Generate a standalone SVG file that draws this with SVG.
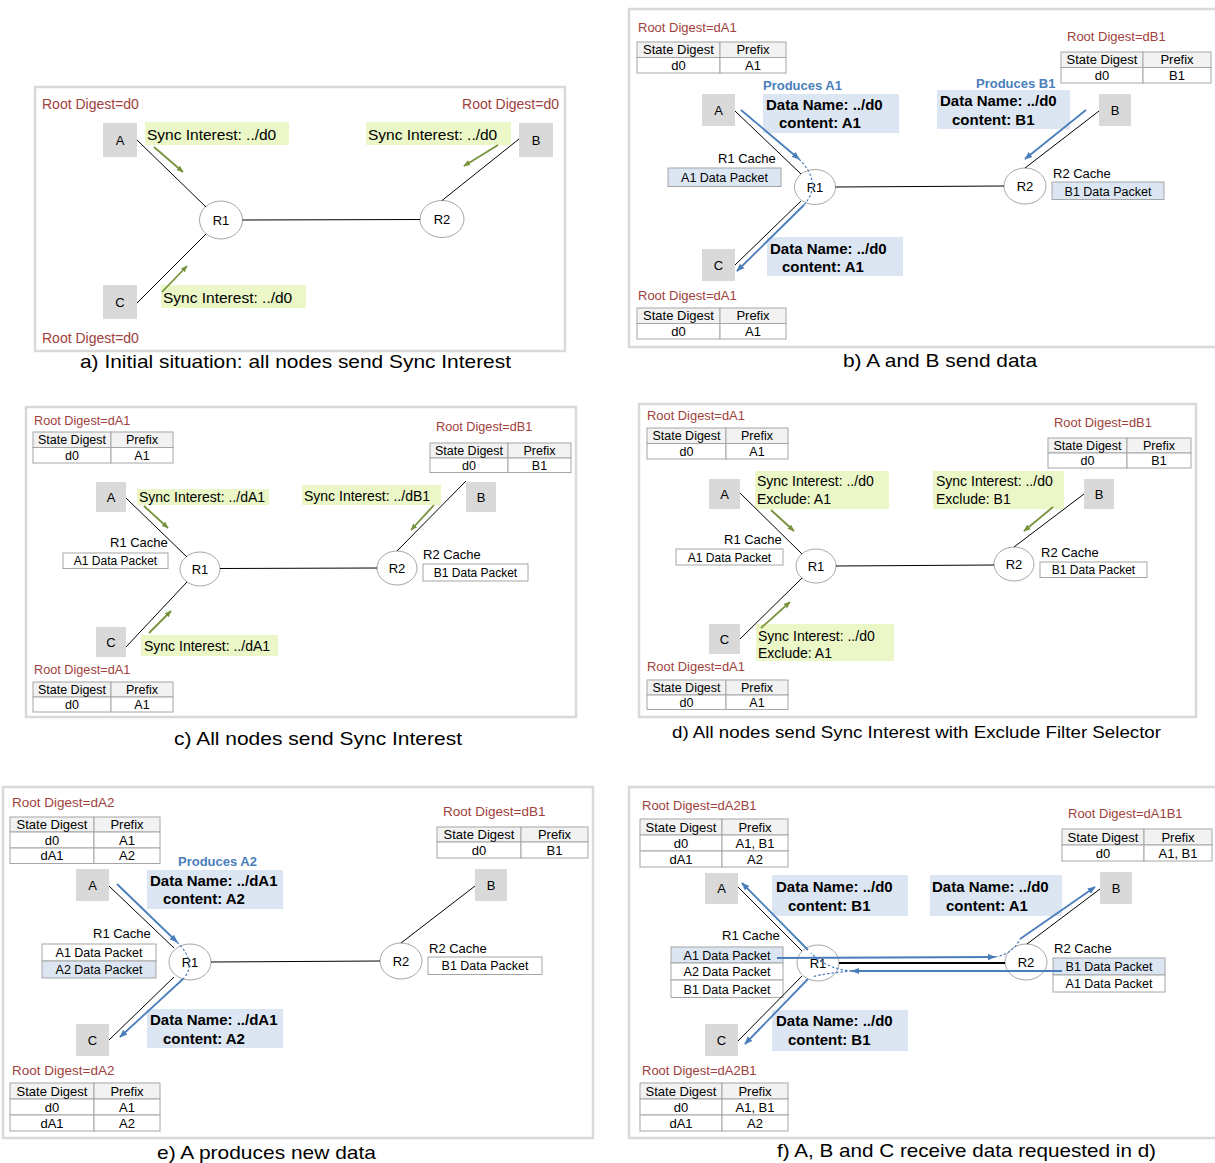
<svg xmlns="http://www.w3.org/2000/svg" width="1215" height="1163" viewBox="0 0 1215 1163">
<style>
text{font-family:"Liberation Sans",Arial,sans-serif;fill:#000}
.frame{fill:none;stroke:#d9d9d9;stroke-width:2.5}
.rd{font-size:13px;fill:#a0413c}
.nb{fill:#d9d9d9}
.nl{font-size:13px;text-anchor:middle}
.rt{fill:#fff;stroke:#a6a6a6;stroke-width:1}
.link{stroke:#000;stroke-width:1;fill:none}
.sync{fill:#ebf7c6}
.st{font-size:15.5px}
.st2{font-size:14px}
.ga{stroke:#77933c;stroke-width:1.8;fill:none;marker-end:url(#ag)}
.ba{stroke:#4a7ebb;stroke-width:1.8;fill:none;marker-end:url(#ab)}
.bd{stroke:#4a7ebb;stroke-width:1.2;fill:none;stroke-dasharray:2.5 2}
.dbox{fill:#dce6f2}
.dt{font-size:15px;font-weight:bold}
.prod{font-size:13px;font-weight:bold;fill:#4a7ebb}
.tc{fill:#fff;stroke:#a6a6a6;stroke-width:1}
.th{fill:#f2f2f2;stroke:#a6a6a6;stroke-width:1}
.cb{fill:#dce6f2;stroke:#a6a6a6;stroke-width:1}
.tt{font-size:13px;text-anchor:middle}
.ct{font-size:12.5px;text-anchor:middle}
.cl{font-size:13px}
.cap{font-size:19px}
</style>
<defs>
<marker id="ag" viewBox="0 0 10 10" refX="9" refY="5" markerWidth="7" markerHeight="7" orient="auto" markerUnits="userSpaceOnUse"><path d="M0,1 L10,5 L0,9 z" fill="#77933c"/></marker>
<marker id="ab" viewBox="0 0 10 10" refX="9" refY="5" markerWidth="8" markerHeight="8" orient="auto" markerUnits="userSpaceOnUse"><path d="M0,1 L10,5 L0,9 z" fill="#4a7ebb"/></marker>
</defs>
<rect width="1215" height="1163" fill="#fff"/>

<!-- ===== Panel a ===== -->
<g id="panel-a">
<rect class="frame" x="35" y="87" width="530" height="264"/>
<text class="rd" x="42" y="109" style="font-size:14px">Root Digest=d0</text>
<text class="rd" x="559" y="109" style="font-size:14px" text-anchor="end">Root Digest=d0</text>
<text class="rd" x="42" y="343" style="font-size:14px">Root Digest=d0</text>
<g id="a-A"><rect class="nb" x="103" y="123" width="34" height="34"/><text class="nl" x="120" y="145">A</text></g>
<g id="a-B"><rect class="nb" x="519" y="123" width="34" height="34"/><text class="nl" x="536" y="145">B</text></g>
<g id="a-C"><rect class="nb" x="103" y="285" width="34" height="34"/><text class="nl" x="120" y="307">C</text></g>
<g id="a-R1"><ellipse class="rt" cx="221" cy="220" rx="21.5" ry="19"/><text class="nl" x="221" y="225">R1</text></g>
<g id="a-R2"><ellipse class="rt" cx="442" cy="219" rx="22" ry="18.5"/><text class="nl" x="442" y="224">R2</text></g>
<g id="a-sA"><rect class="sync" x="145" y="122" width="144" height="23"/><text class="st" x="147" y="140">Sync Interest: ../d0</text></g>
<g id="a-sB"><rect class="sync" x="366" y="122" width="145" height="23"/><text class="st" x="368" y="140">Sync Interest: ../d0</text></g>
<g id="a-sC"><rect class="sync" x="161" y="285" width="145" height="23"/><text class="st" x="163" y="303">Sync Interest: ../d0</text></g>
<text class="cap" x="80" y="368" textLength="431" lengthAdjust="spacingAndGlyphs">a) Initial situation: all nodes send Sync Interest</text>
</g>

<!-- ===== Panel b ===== -->
<g id="panel-b">
<rect class="frame" x="629" y="9" width="600" height="338"/>
<text class="rd" x="638" y="32">Root Digest=dA1</text>
<text class="rd" x="1067" y="41">Root Digest=dB1</text>
<text class="rd" x="638" y="300">Root Digest=dA1</text>
<g id="b-tA">
<rect class="th" x="637" y="42" width="83" height="15.5"/><rect class="th" x="720" y="42" width="66" height="15.5"/>
<rect class="tc" x="637" y="57.5" width="83" height="15.5"/><rect class="tc" x="720" y="57.5" width="66" height="15.5"/>
<text class="tt" x="678.5" y="54">State Digest</text><text class="tt" x="753" y="54">Prefix</text>
<text class="tt" x="678.5" y="69.5">d0</text><text class="tt" x="753" y="69.5">A1</text>
</g>
<g id="b-tC">
<rect class="th" x="637" y="308" width="83" height="15.5"/><rect class="th" x="720" y="308" width="66" height="15.5"/>
<rect class="tc" x="637" y="323.5" width="83" height="15.5"/><rect class="tc" x="720" y="323.5" width="66" height="15.5"/>
<text class="tt" x="678.5" y="320">State Digest</text><text class="tt" x="753" y="320">Prefix</text>
<text class="tt" x="678.5" y="335.5">d0</text><text class="tt" x="753" y="335.5">A1</text>
</g>
<g id="b-tB">
<rect class="th" x="1061" y="52" width="82" height="15.5"/><rect class="th" x="1143" y="52" width="68" height="15.5"/>
<rect class="tc" x="1061" y="67.5" width="82" height="15.5"/><rect class="tc" x="1143" y="67.5" width="68" height="15.5"/>
<text class="tt" x="1102" y="64">State Digest</text><text class="tt" x="1177" y="64">Prefix</text>
<text class="tt" x="1102" y="79.5">d0</text><text class="tt" x="1177" y="79.5">B1</text>
</g>
<g id="b-A"><rect class="nb" x="702" y="94" width="33" height="32"/><text class="nl" x="718.5" y="114.5">A</text></g>
<g id="b-B"><rect class="nb" x="1099" y="94" width="32" height="32"/><text class="nl" x="1115" y="114.5">B</text></g>
<g id="b-C"><rect class="nb" x="702" y="249" width="33" height="32"/><text class="nl" x="718.5" y="269.5">C</text></g>
<g id="b-R1"><ellipse class="rt" cx="815" cy="187" rx="20.5" ry="17.5"/><text class="nl" x="815" y="192">R1</text></g>
<g id="b-R2"><ellipse class="rt" cx="1025" cy="186" rx="21" ry="18"/><text class="nl" x="1025" y="191">R2</text></g>
<g id="b-c1"><text class="cl" x="718" y="163">R1 Cache</text><rect class="cb" x="668" y="168" width="113" height="18.5"/><text class="ct" x="724.5" y="182">A1 Data Packet</text></g>
<g id="b-c2"><text class="cl" x="1053" y="178">R2 Cache</text><rect class="cb" x="1052" y="182" width="112" height="17.5"/><text class="ct" x="1108" y="195.5">B1 Data Packet</text></g>
<g id="b-d1"><text class="prod" x="763" y="90">Produces A1</text><rect class="dbox" x="763" y="94" width="136" height="39"/><text class="dt" x="766" y="110">Data Name: ../d0</text><text class="dt" x="779" y="128">content: A1</text></g>
<g id="b-d2"><text class="prod" x="976" y="88">Produces B1</text><rect class="dbox" x="937" y="90" width="133" height="39"/><text class="dt" x="940" y="106">Data Name: ../d0</text><text class="dt" x="952" y="125">content: B1</text></g>
<g id="b-d3"><rect class="dbox" x="767" y="237" width="136" height="39"/><text class="dt" x="770" y="254">Data Name: ../d0</text><text class="dt" x="782" y="272">content: A1</text></g>
<text class="cap" x="843" y="367" textLength="194" lengthAdjust="spacingAndGlyphs">b) A and B send data</text>
</g>

<!-- ===== Panel c ===== -->
<g id="panel-c">
<rect class="frame" x="26" y="407" width="550" height="310"/>
<text class="rd" x="34" y="425" style="font-size:12.7px">Root Digest=dA1</text>
<text class="rd" x="436" y="431" style="font-size:12.7px">Root Digest=dB1</text>
<text class="rd" x="34" y="674" style="font-size:12.7px">Root Digest=dA1</text>
<g id="c-tA">
<rect class="th" x="33" y="432" width="78" height="15.5"/><rect class="th" x="111" y="432" width="62" height="15.5"/>
<rect class="tc" x="33" y="447.5" width="78" height="15.5"/><rect class="tc" x="111" y="447.5" width="62" height="15.5"/>
<text class="tt" x="72" y="444" style="font-size:12.5px">State Digest</text><text class="tt" x="142" y="444" style="font-size:12.5px">Prefix</text>
<text class="tt" x="72" y="459.5" style="font-size:12.5px">d0</text><text class="tt" x="142" y="459.5" style="font-size:12.5px">A1</text>
</g>
<g id="c-tC">
<rect class="th" x="33" y="682" width="78" height="15"/><rect class="th" x="111" y="682" width="62" height="15"/>
<rect class="tc" x="33" y="697" width="78" height="15"/><rect class="tc" x="111" y="697" width="62" height="15"/>
<text class="tt" x="72" y="694" style="font-size:12.5px">State Digest</text><text class="tt" x="142" y="694" style="font-size:12.5px">Prefix</text>
<text class="tt" x="72" y="709" style="font-size:12.5px">d0</text><text class="tt" x="142" y="709" style="font-size:12.5px">A1</text>
</g>
<g id="c-tB">
<rect class="th" x="430" y="443" width="78" height="15"/><rect class="th" x="508" y="443" width="63" height="15"/>
<rect class="tc" x="430" y="458" width="78" height="14.5"/><rect class="tc" x="508" y="458" width="63" height="14.5"/>
<text class="tt" x="469" y="455" style="font-size:12.5px">State Digest</text><text class="tt" x="539.5" y="455" style="font-size:12.5px">Prefix</text>
<text class="tt" x="469" y="469.5" style="font-size:12.5px">d0</text><text class="tt" x="539.5" y="469.5" style="font-size:12.5px">B1</text>
</g>
<g id="c-A"><rect class="nb" x="96" y="482" width="30" height="30"/><text class="nl" x="111" y="501.5">A</text></g>
<g id="c-B"><rect class="nb" x="466" y="482" width="30" height="30"/><text class="nl" x="481" y="501.5">B</text></g>
<g id="c-C"><rect class="nb" x="96" y="627" width="30" height="30"/><text class="nl" x="111" y="646.5">C</text></g>
<g id="c-R1"><ellipse class="rt" cx="200" cy="569" rx="20" ry="17"/><text class="nl" x="200" y="574">R1</text></g>
<g id="c-R2"><ellipse class="rt" cx="397" cy="568" rx="20" ry="17"/><text class="nl" x="397" y="573">R2</text></g>
<g id="c-c1"><text class="cl" x="110" y="547">R1 Cache</text><rect class="tc" x="63" y="553" width="105" height="15.5"/><text class="ct" x="115.5" y="565" style="font-size:12px">A1 Data Packet</text></g>
<g id="c-c2"><text class="cl" x="423" y="559">R2 Cache</text><rect class="tc" x="423" y="564" width="105" height="17"/><text class="ct" x="475.5" y="577" style="font-size:12px">B1 Data Packet</text></g>
<g id="c-sA"><rect class="sync" x="137" y="489" width="132" height="16"/><text class="st2" x="139" y="502">Sync Interest: ../dA1</text></g>
<g id="c-sB"><rect class="sync" x="302" y="485" width="139" height="20"/><text class="st2" x="304" y="501">Sync Interest: ../dB1</text></g>
<g id="c-sC"><rect class="sync" x="141" y="635" width="137" height="21"/><text class="st2" x="144" y="651">Sync Interest: ../dA1</text></g>
<text class="cap" x="174" y="745" textLength="288" lengthAdjust="spacingAndGlyphs">c) All nodes  send Sync Interest</text>
</g>

<!-- ===== Panel d ===== -->
<g id="panel-d">
<rect class="frame" x="639" y="404" width="557" height="313"/>
<text class="rd" x="647" y="420" style="font-size:12.9px">Root Digest=dA1</text>
<text class="rd" x="1054" y="427" style="font-size:12.9px">Root Digest=dB1</text>
<text class="rd" x="647" y="671" style="font-size:12.9px">Root Digest=dA1</text>
<g id="d-tA">
<rect class="th" x="647" y="428" width="79" height="15.5"/><rect class="th" x="726" y="428" width="62" height="15.5"/>
<rect class="tc" x="647" y="443.5" width="79" height="15.5"/><rect class="tc" x="726" y="443.5" width="62" height="15.5"/>
<text class="tt" x="686.5" y="440" style="font-size:12.5px">State Digest</text><text class="tt" x="757" y="440" style="font-size:12.5px">Prefix</text>
<text class="tt" x="686.5" y="455.5" style="font-size:12.5px">d0</text><text class="tt" x="757" y="455.5" style="font-size:12.5px">A1</text>
</g>
<g id="d-tC">
<rect class="th" x="647" y="680" width="79" height="15"/><rect class="th" x="726" y="680" width="62" height="15"/>
<rect class="tc" x="647" y="695" width="79" height="14.5"/><rect class="tc" x="726" y="695" width="62" height="14.5"/>
<text class="tt" x="686.5" y="692" style="font-size:12.5px">State Digest</text><text class="tt" x="757" y="692" style="font-size:12.5px">Prefix</text>
<text class="tt" x="686.5" y="707" style="font-size:12.5px">d0</text><text class="tt" x="757" y="707" style="font-size:12.5px">A1</text>
</g>
<g id="d-tB">
<rect class="th" x="1048" y="438" width="79" height="15"/><rect class="th" x="1127" y="438" width="64" height="15"/>
<rect class="tc" x="1048" y="453" width="79" height="15"/><rect class="tc" x="1127" y="453" width="64" height="15"/>
<text class="tt" x="1087.5" y="450" style="font-size:12.5px">State Digest</text><text class="tt" x="1159" y="450" style="font-size:12.5px">Prefix</text>
<text class="tt" x="1087.5" y="465" style="font-size:12.5px">d0</text><text class="tt" x="1159" y="465" style="font-size:12.5px">B1</text>
</g>
<g id="d-A"><rect class="nb" x="709" y="479" width="31" height="30"/><text class="nl" x="724.5" y="498.5">A</text></g>
<g id="d-B"><rect class="nb" x="1084" y="479" width="30" height="30"/><text class="nl" x="1099" y="498.5">B</text></g>
<g id="d-C"><rect class="nb" x="709" y="624" width="31" height="30"/><text class="nl" x="724.5" y="643.5">C</text></g>
<g id="d-R1"><ellipse class="rt" cx="816" cy="566" rx="20" ry="17"/><text class="nl" x="816" y="571">R1</text></g>
<g id="d-R2"><ellipse class="rt" cx="1014" cy="564" rx="20" ry="17"/><text class="nl" x="1014" y="569">R2</text></g>
<g id="d-c1"><text class="cl" x="724" y="544">R1 Cache</text><rect class="tc" x="676" y="549" width="107" height="16"/><text class="ct" x="729.5" y="561.5" style="font-size:12px">A1 Data Packet</text></g>
<g id="d-c2"><text class="cl" x="1041" y="557">R2 Cache</text><rect class="tc" x="1040" y="562" width="107" height="15.5"/><text class="ct" x="1093.5" y="574" style="font-size:12px">B1 Data Packet</text></g>
<g id="d-sA"><rect class="sync" x="755" y="471" width="134" height="38"/><text class="st2" x="757" y="486">Sync Interest: ../d0</text><text class="st2" x="757" y="504">Exclude: A1</text></g>
<g id="d-sB"><rect class="sync" x="933" y="471" width="131" height="38"/><text class="st2" x="936" y="486">Sync Interest: ../d0</text><text class="st2" x="936" y="504">Exclude: B1</text></g>
<g id="d-sC"><rect class="sync" x="756" y="624" width="138" height="37"/><text class="st2" x="758" y="641">Sync Interest: ../d0</text><text class="st2" x="758" y="657.5">Exclude: A1</text></g>
<text x="672" y="738" style="font-size:17px" textLength="489" lengthAdjust="spacingAndGlyphs">d) All nodes send Sync Interest  with Exclude Filter Selector</text>
</g>

<!-- ===== Panel e ===== -->
<g id="panel-e">
<rect class="frame" x="3" y="787" width="590" height="351"/>
<text class="rd" x="12" y="807" style="font-size:13.5px">Root Digest=dA2</text>
<text class="rd" x="443" y="816" style="font-size:13.5px">Root Digest=dB1</text>
<text class="rd" x="12" y="1075" style="font-size:13.5px">Root Digest=dA2</text>
<g id="e-tA">
<rect class="th" x="10" y="817" width="84" height="15"/><rect class="th" x="94" y="817" width="66" height="15"/>
<rect class="tc" x="10" y="832" width="84" height="16"/><rect class="tc" x="94" y="832" width="66" height="16"/>
<rect class="tc" x="10" y="848" width="84" height="15.5"/><rect class="tc" x="94" y="848" width="66" height="15.5"/>
<text class="tt" x="52" y="829">State Digest</text><text class="tt" x="127" y="829">Prefix</text>
<text class="tt" x="52" y="844.5">d0</text><text class="tt" x="127" y="844.5">A1</text>
<text class="tt" x="52" y="860">dA1</text><text class="tt" x="127" y="860">A2</text>
</g>
<g id="e-tC">
<rect class="th" x="10" y="1083" width="84" height="16"/><rect class="th" x="94" y="1083" width="66" height="16"/>
<rect class="tc" x="10" y="1099" width="84" height="16"/><rect class="tc" x="94" y="1099" width="66" height="16"/>
<rect class="tc" x="10" y="1115" width="84" height="16"/><rect class="tc" x="94" y="1115" width="66" height="16"/>
<text class="tt" x="52" y="1095.5">State Digest</text><text class="tt" x="127" y="1095.5">Prefix</text>
<text class="tt" x="52" y="1111.5">d0</text><text class="tt" x="127" y="1111.5">A1</text>
<text class="tt" x="52" y="1127.5">dA1</text><text class="tt" x="127" y="1127.5">A2</text>
</g>
<g id="e-tB">
<rect class="th" x="437" y="827" width="84" height="15"/><rect class="th" x="521" y="827" width="67" height="15"/>
<rect class="tc" x="437" y="842" width="84" height="16"/><rect class="tc" x="521" y="842" width="67" height="16"/>
<text class="tt" x="479" y="839">State Digest</text><text class="tt" x="554.5" y="839">Prefix</text>
<text class="tt" x="479" y="854.5">d0</text><text class="tt" x="554.5" y="854.5">B1</text>
</g>
<g id="e-A"><rect class="nb" x="76" y="869" width="33" height="32"/><text class="nl" x="92.5" y="889.5">A</text></g>
<g id="e-B"><rect class="nb" x="475" y="869" width="32" height="32"/><text class="nl" x="491" y="889.5">B</text></g>
<g id="e-C"><rect class="nb" x="76" y="1024" width="33" height="32"/><text class="nl" x="92.5" y="1044.5">C</text></g>
<g id="e-R1"><ellipse class="rt" cx="190" cy="962" rx="21" ry="18"/><text class="nl" x="190" y="967">R1</text></g>
<g id="e-R2"><ellipse class="rt" cx="401" cy="961" rx="21" ry="18"/><text class="nl" x="401" y="966">R2</text></g>
<g id="e-c1"><text class="cl" x="93" y="938">R1 Cache</text>
<rect class="tc" x="42" y="944" width="114" height="17"/><rect class="cb" x="42" y="961" width="114" height="17"/>
<text class="ct" x="99" y="957">A1 Data Packet</text><text class="ct" x="99" y="974">A2 Data Packet</text></g>
<g id="e-c2"><text class="cl" x="429" y="953">R2 Cache</text><rect class="tc" x="428" y="957" width="114" height="17.5"/><text class="ct" x="485" y="970">B1 Data Packet</text></g>
<g id="e-d1"><text class="prod" x="178" y="866">Produces A2</text><rect class="dbox" x="147" y="870" width="136" height="39"/><text class="dt" x="150" y="886">Data Name: ../dA1</text><text class="dt" x="163" y="904">content: A2</text></g>
<g id="e-d2"><rect class="dbox" x="147" y="1009" width="136" height="39"/><text class="dt" x="150" y="1025">Data Name: ../dA1</text><text class="dt" x="163" y="1044">content: A2</text></g>
<text class="cap" x="157" y="1159" textLength="219" lengthAdjust="spacingAndGlyphs">e) A produces new data</text>
</g>

<!-- ===== Panel f ===== -->
<g id="panel-f">
<rect class="frame" x="629" y="787" width="600" height="351"/>
<text class="rd" x="642" y="810">Root Digest=dA2B1</text>
<text class="rd" x="1068" y="818">Root Digest=dA1B1</text>
<text class="rd" x="642" y="1075">Root Digest=dA2B1</text>
<g id="f-tA">
<rect class="th" x="640" y="819" width="82" height="16"/><rect class="th" x="722" y="819" width="66" height="16"/>
<rect class="tc" x="640" y="835" width="82" height="16"/><rect class="tc" x="722" y="835" width="66" height="16"/>
<rect class="tc" x="640" y="851" width="82" height="16"/><rect class="tc" x="722" y="851" width="66" height="16"/>
<text class="tt" x="681" y="831.5">State Digest</text><text class="tt" x="755" y="831.5">Prefix</text>
<text class="tt" x="681" y="847.5">d0</text><text class="tt" x="755" y="847.5">A1, B1</text>
<text class="tt" x="681" y="863.5">dA1</text><text class="tt" x="755" y="863.5">A2</text>
</g>
<g id="f-tC">
<rect class="th" x="640" y="1083" width="82" height="16"/><rect class="th" x="722" y="1083" width="66" height="16"/>
<rect class="tc" x="640" y="1099" width="82" height="16"/><rect class="tc" x="722" y="1099" width="66" height="16"/>
<rect class="tc" x="640" y="1115" width="82" height="16"/><rect class="tc" x="722" y="1115" width="66" height="16"/>
<text class="tt" x="681" y="1095.5">State Digest</text><text class="tt" x="755" y="1095.5">Prefix</text>
<text class="tt" x="681" y="1111.5">d0</text><text class="tt" x="755" y="1111.5">A1, B1</text>
<text class="tt" x="681" y="1127.5">dA1</text><text class="tt" x="755" y="1127.5">A2</text>
</g>
<g id="f-tB">
<rect class="th" x="1062" y="829" width="82" height="16"/><rect class="th" x="1144" y="829" width="68" height="16"/>
<rect class="tc" x="1062" y="845" width="82" height="16"/><rect class="tc" x="1144" y="845" width="68" height="16"/>
<text class="tt" x="1103" y="841.5">State Digest</text><text class="tt" x="1178" y="841.5">Prefix</text>
<text class="tt" x="1103" y="857.5">d0</text><text class="tt" x="1178" y="857.5">A1, B1</text>
</g>
<g id="f-A"><rect class="nb" x="705" y="873" width="33" height="31"/><text class="nl" x="721.5" y="893">A</text></g>
<g id="f-B"><rect class="nb" x="1100" y="872" width="32" height="32"/><text class="nl" x="1116" y="892.5">B</text></g>
<g id="f-C"><rect class="nb" x="705" y="1024" width="33" height="32"/><text class="nl" x="721.5" y="1044.5">C</text></g>
<g id="f-R1"><ellipse class="rt" cx="818" cy="963" rx="21" ry="18"/><text class="nl" x="818" y="968">R1</text></g>
<g id="f-R2"><ellipse class="rt" cx="1026" cy="962" rx="21" ry="18"/><text class="nl" x="1026" y="967">R2</text></g>
<g id="f-c1"><text class="cl" x="722" y="940">R1 Cache</text>
<rect class="cb" x="671" y="947" width="112" height="16"/><rect class="tc" x="671" y="963" width="112" height="17"/><rect class="tc" x="671" y="980" width="112" height="17.5"/>
<text class="ct" x="727" y="959.5">A1 Data Packet</text><text class="ct" x="727" y="976">A2 Data Packet</text><text class="ct" x="727" y="993.5">B1 Data Packet</text></g>
<g id="f-c2"><text class="cl" x="1054" y="953">R2 Cache</text>
<rect class="cb" x="1053" y="958" width="112" height="17"/><rect class="tc" x="1053" y="975" width="112" height="17"/>
<text class="ct" x="1109" y="971">B1 Data Packet</text><text class="ct" x="1109" y="988">A1 Data Packet</text></g>
<g id="f-d1"><rect class="dbox" x="772" y="875" width="136" height="41"/><text class="dt" x="776" y="892">Data Name: ../d0</text><text class="dt" x="788" y="911">content: B1</text></g>
<g id="f-d2"><rect class="dbox" x="930" y="875" width="132" height="41"/><text class="dt" x="932" y="892">Data Name: ../d0</text><text class="dt" x="946" y="911">content: A1</text></g>
<g id="f-d3"><rect class="dbox" x="772" y="1010" width="136" height="41"/><text class="dt" x="776" y="1026">Data Name: ../d0</text><text class="dt" x="788" y="1045">content: B1</text></g>
<text class="cap" x="777" y="1157" textLength="379" lengthAdjust="spacingAndGlyphs">f) A, B and C receive data requested in d)</text>
</g>

<!-- ===== Connectors ===== -->
<g id="connectors">
<!-- a -->
<line class="link" x1="137" y1="140" x2="206" y2="207"/>
<line class="link" x1="137" y1="303" x2="206" y2="234"/>
<line class="link" x1="519" y1="139" x2="442" y2="200.5"/>
<line class="link" x1="242.5" y1="220" x2="420" y2="219.5"/>
<line class="ga" x1="154" y1="147" x2="183" y2="172"/>
<line class="ga" x1="162" y1="292" x2="187" y2="266"/>
<line class="ga" x1="498" y1="145" x2="464" y2="166"/>
<!-- b -->
<line class="link" x1="735" y1="111" x2="801" y2="174"/>
<line class="link" x1="735" y1="265" x2="801" y2="201"/>
<line class="link" x1="1099" y1="111" x2="1025" y2="168"/>
<line class="link" x1="835.5" y1="187" x2="1004" y2="186"/>
<line class="ba" x1="741" y1="110" x2="799" y2="159"/>
<path class="bd" d="M799,159 Q823,183 804,205"/>
<line class="ba" x1="804" y1="205" x2="737" y2="271"/>
<line class="ba" x1="1086" y1="110" x2="1025" y2="159"/>
<!-- c -->
<line class="link" x1="126" y1="498" x2="187" y2="557"/>
<line class="link" x1="126" y1="647" x2="187" y2="582"/>
<line class="link" x1="466" y1="481" x2="397" y2="551"/>
<line class="link" x1="220" y1="568.5" x2="377" y2="568"/>
<line class="ga" x1="144" y1="506" x2="168" y2="528"/>
<line class="ga" x1="149" y1="633" x2="171" y2="611"/>
<line class="ga" x1="434" y1="505" x2="411" y2="530"/>
<!-- d -->
<line class="link" x1="740" y1="493" x2="802" y2="554"/>
<line class="link" x1="740" y1="639" x2="802" y2="578"/>
<line class="link" x1="1084" y1="494" x2="1014" y2="547"/>
<line class="link" x1="836" y1="566" x2="994" y2="565"/>
<line class="ga" x1="771" y1="510" x2="794" y2="531"/>
<line class="ga" x1="761" y1="628" x2="790" y2="602"/>
<line class="ga" x1="1053" y1="507" x2="1024" y2="531"/>
<!-- e -->
<line class="link" x1="109" y1="886" x2="174" y2="948"/>
<line class="link" x1="109" y1="1040" x2="174" y2="977"/>
<line class="link" x1="475" y1="886" x2="401" y2="943"/>
<line class="link" x1="211" y1="962" x2="380" y2="961"/>
<line class="ba" x1="117" y1="884" x2="177" y2="942"/>
<path class="bd" d="M177,942 Q198,963 183,979"/>
<line class="ba" x1="183" y1="979" x2="120" y2="1037"/>
<!-- f -->
<line class="link" x1="738" y1="887" x2="802" y2="951"/>
<line class="link" x1="738" y1="1041" x2="802" y2="976"/>
<line class="link" x1="1100" y1="889" x2="1027" y2="944"/>
<line class="link" x1="839" y1="963" x2="1005" y2="963" style="stroke-width:2"/>
<line class="ba" x1="777" y1="958" x2="995" y2="957"/>
<path class="bd" d="M995,957 Q1013,954 1020,939"/>
<line class="ba" x1="1020" y1="939" x2="1095" y2="887"/>
<line class="ba" x1="1062" y1="971" x2="852" y2="971"/>
<path class="bd" d="M852,971 Q826,969 811,953"/>
<path class="bd" d="M852,971 Q826,973 812,977"/>
<line class="ba" x1="808" y1="950" x2="742" y2="883"/>
<line class="ba" x1="808" y1="979" x2="745" y2="1044"/>
</g>
</svg>
